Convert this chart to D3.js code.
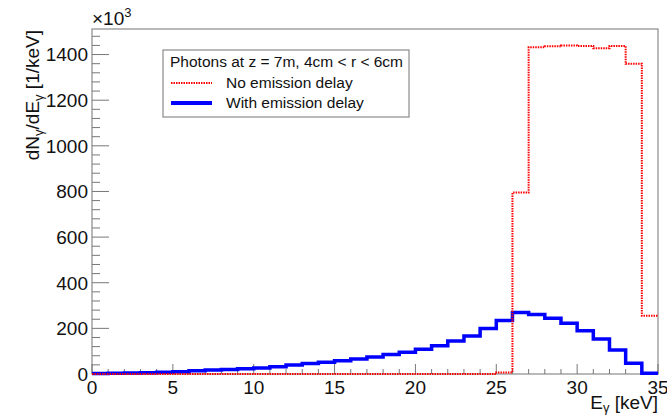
<!DOCTYPE html>
<html>
<head>
<meta charset="utf-8">
<script src="https://cdn.jsdelivr.net/npm/d3@7"></script>
<style>
  body { margin: 0; background: #fff; }
  svg { display: block; font-family: "Liberation Sans", Arial, Helvetica, sans-serif; }
</style>
</head>
<body>
<div id="chart"></div>
<script>
// bin edges 0..35 keV, 1 keV wide
var binEdges = d3.range(0, 36, 1);

// counts per bin (x10^3)
var noDelay = [0, 0, 0, 0, 0, 0, 0, 0, 0, 0, 0, 0, 0, 0, 0, 0, 0, 0, 0, 0, 0, 0, 0, 0, 0,
    7, 795, 1432, 1436, 1440, 1438, 1428, 1438, 1360, 255];
var withDelay = [2, 3, 4, 6, 8, 10, 14, 17, 20, 23, 26, 32, 39, 46, 51, 58, 66, 74, 85, 95, 108,
    124, 145, 166, 199, 234, 269, 261, 244, 222, 190, 153, 105, 47, 3];

var xTicks = [0, 5, 10, 15, 20, 25, 30, 35];
var yTicks = [0, 200, 400, 600, 800, 1000, 1200, 1400];

var width = 667, height = 416;
var frameLeft = 92, frameRight = 658, frameTop = 29, frameBottom = 374;

var svg = d3.select("#chart")
    .append("svg")
    .attr("width", width)
    .attr("height", height);

var xScale = d3.scaleLinear().domain([0, 35]).range([frameLeft, frameRight]);
var yScale = d3.scaleLinear().domain([0, 1512]).range([frameBottom, frameTop]);

// frame
svg.append("rect")
    .attr("x", frameLeft)
    .attr("y", frameTop)
    .attr("width", frameRight - frameLeft)
    .attr("height", frameBottom - frameTop)
    .attr("fill", "none")
    .attr("stroke", "#8a8a8a")
    .attr("stroke-width", 1.2);

// x axis ticks: major every 5, minor every 1
var xAxis = svg.append("g").attr("transform", "translate(0," + frameBottom + ")");
xAxis.selectAll("line")
    .data(d3.range(0, 36, 1))
    .enter()
    .append("line")
    .attr("x1", function (d) { return xScale(d); })
    .attr("x2", function (d) { return xScale(d); })
    .attr("y1", 0)
    .attr("y2", function (d) { return d % 5 === 0 ? -10 : -5; })
    .attr("stroke", "#777")
    .attr("stroke-width", 1);
xAxis.selectAll("text")
    .data(xTicks)
    .enter()
    .append("text")
    .attr("x", function (d) { return xScale(d); })
    .attr("y", 20)
    .attr("text-anchor", "middle")
    .style("font-size", "19px")
    .attr("fill", "#111")
    .text(function (d) { return d; });

// y axis ticks: major every 200, minor every 40
var yAxis = svg.append("g").attr("transform", "translate(" + frameLeft + ",0)");
yAxis.selectAll("line")
    .data(d3.range(0, 1512, 40))
    .enter()
    .append("line")
    .attr("x1", 0)
    .attr("x2", function (d) { return d % 200 === 0 ? 17 : 8; })
    .attr("y1", function (d) { return yScale(d); })
    .attr("y2", function (d) { return yScale(d); })
    .attr("stroke", "#777")
    .attr("stroke-width", 1);
yAxis.selectAll("text")
    .data(yTicks)
    .enter()
    .append("text")
    .attr("x", -4)
    .attr("y", function (d) { return yScale(d); })
    .attr("dy", "0.36em")
    .attr("text-anchor", "end")
    .style("font-size", "19px")
    .attr("fill", "#111")
    .text(function (d) { return d; });

// x10^3 exponent label
var expo = svg.append("text")
    .attr("x", frameLeft)
    .attr("y", 25)
    .style("font-size", "19px")
    .attr("fill", "#111");
expo.append("tspan").text("\u00d710");
expo.append("tspan").attr("dy", -8).style("font-size", "13px").text("3");

// histograms as steps
var step = d3.line()
    .x(function (d) { return xScale(d[0]); })
    .y(function (d) { return yScale(d[1]); })
    .curve(d3.curveStepAfter);

function histPoints(values) {
    var pts = values.map(function (v, i) { return [binEdges[i], v]; });
    pts.push([binEdges[values.length], values[values.length - 1]]);
    return pts;
}

svg.append("path")
    .attr("d", step(histPoints(withDelay)))
    .attr("fill", "none")
    .attr("stroke", "#0000ff")
    .attr("stroke-width", 3.5);

svg.append("path")
    .attr("d", step(histPoints(noDelay)))
    .attr("fill", "none")
    .attr("stroke", "#ff0000")
    .attr("stroke-width", 2)
    .attr("stroke-dasharray", "1.5,1");

// axis titles
var yTitle = svg.append("text")
    .attr("transform", "translate(39,30) rotate(-90)")
    .attr("text-anchor", "end")
    .style("font-size", "19px")
    .attr("fill", "#111");
yTitle.append("tspan").text("dN");
yTitle.append("tspan").attr("dy", 4).style("font-size", "13px").text("\u03b3");
yTitle.append("tspan").attr("dy", -4).text("/dE");
yTitle.append("tspan").attr("dy", 4).style("font-size", "13px").text("\u03b3");
yTitle.append("tspan").attr("dy", -4).text(" [1/keV]");

var xTitle = svg.append("text")
    .attr("x", frameRight)
    .attr("y", 409)
    .attr("text-anchor", "end")
    .style("font-size", "19px")
    .attr("fill", "#111");
xTitle.append("tspan").text("E");
xTitle.append("tspan").attr("dy", 3).style("font-size", "13px").text("\u03b3");
xTitle.append("tspan").attr("dy", -3).text(" [keV]");

// legend
var legend = svg.append("g");
legend.append("rect")
    .attr("x", 163)
    .attr("y", 50)
    .attr("width", 246)
    .attr("height", 67)
    .attr("fill", "#fff")
    .attr("stroke", "#8a8a8a")
    .attr("stroke-width", 1.2);
legend.append("text")
    .attr("x", 170)
    .attr("y", 67)
    .style("font-size", "15.5px")
    .attr("fill", "#111")
    .text("Photons at z = 7m, 4cm < r < 6cm");

var legendItems = [
    { label: "No emission delay", color: "#ff0000", width: 2, dash: "1.5,1" },
    { label: "With emission delay", color: "#0000ff", width: 4, dash: null }
];
legend.selectAll("line")
    .data(legendItems)
    .enter()
    .append("line")
    .attr("x1", 171)
    .attr("x2", 212)
    .attr("y1", function (d, i) { return 83 + i * 20; })
    .attr("y2", function (d, i) { return 83 + i * 20; })
    .attr("stroke", function (d) { return d.color; })
    .attr("stroke-width", function (d) { return d.width; })
    .attr("stroke-dasharray", function (d) { return d.dash; });
legend.selectAll("text.item")
    .data(legendItems)
    .enter()
    .append("text")
    .attr("class", "item")
    .attr("x", 226)
    .attr("y", function (d, i) { return 88 + i * 20; })
    .style("font-size", "15.5px")
    .attr("fill", "#111")
    .text(function (d) { return d.label; });
</script>
</body>
</html>
